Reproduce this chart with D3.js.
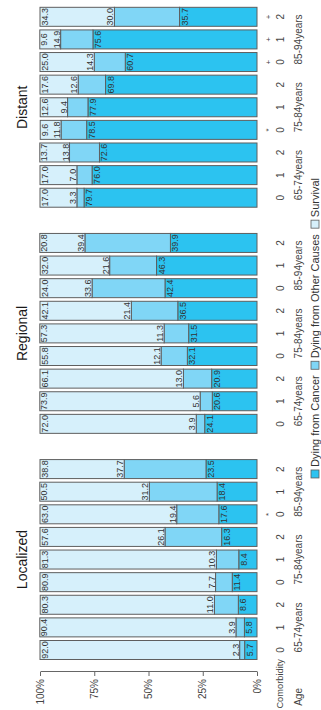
<!DOCTYPE html>
<html>
<head>
<meta charset="utf-8">
<script src="https://cdn.jsdelivr.net/npm/d3@7"></script>
<style>
  body { margin: 0; background: #fff; }
  text { font-family: "Liberation Sans", Arial, sans-serif; }
</style>
</head>
<body>
<div class="first"></div>
<script>
// values, one entry per bar (stage x age x comorbidity)
const stages = ["Localized", "Regional", "Distant"];
const ages = ["65-74years", "75-84years", "85-94years"];
const comorbidity = ["0", "1", "2"];
const marks = ["", "", "", "", "", "", "*", "", "",
               "", "", "", "", "", "", "", "", "",
               "", "", "", "*", "", "", "+", "+", "+"];

const survival = [92.0, 90.4, 80.3, 80.9, 81.3, 57.6, 63.0, 50.5, 38.8,
                  72.0, 73.9, 66.1, 55.8, 57.3, 42.1, 24.0, 32.0, 20.8,
                  17.0, 17.0, 13.7, 9.6, 12.6, 17.6, 25.0, 9.6, 34.3];
const otherCauses = [2.3, 3.9, 11.0, 7.7, 10.3, 26.1, 19.4, 31.2, 37.7,
                     3.9, 5.6, 13.0, 12.1, 11.3, 21.4, 33.6, 21.6, 39.4,
                     3.3, 7.0, 13.8, 11.8, 9.4, 12.6, 14.3, 14.9, 30.0];
const cancer = [5.7, 5.8, 8.6, 11.4, 8.4, 16.3, 17.6, 18.4, 23.5,
                24.1, 20.6, 20.9, 32.1, 31.5, 36.5, 42.4, 46.3, 39.9,
                79.7, 76.0, 72.6, 78.5, 77.9, 69.8, 60.7, 75.6, 35.7];

const pctTicks = [0, 25, 50, 75, 100];
const keys = ["cancer", "other", "survival"];
const legendLabels = ["Dying from Cancer", "Dying from Other Causes", "Survival"];

const rows = survival.map(function(s, i) {
    return {
        idx: i,
        stage: stages[Math.floor(i / 9)],
        age: ages[Math.floor((i % 9) / 3)],
        com: comorbidity[i % 3],
        mark: marks[i],
        slot: i % 9,
        survival: s,
        other: otherCauses[i],
        cancer: cancer[i]
    };
});

// chart is drawn landscape and then turned a quarter turn
const W = 710, H = 321;
const colors = {cancer: "#2cc3f0", other: "#80d6f6", survival: "#d6f0fb"};

const svg = d3.select('.first')
    .append('svg')
    .attr('width', H)
    .attr('height', W);

const g = svg.append('g')
    .attr('transform', 'translate(0,' + W + ') rotate(-90)');

const panel = d3.scaleBand()
    .domain(stages)
    .range([48.7, 704.5])
    .paddingInner(0.1);

const x = d3.scaleBand()
    .domain(d3.range(9))
    .range([0, panel.bandwidth()])
    .paddingInner(0.16)
    .paddingOuter(0.08);

const y = d3.scaleLinear()
    .domain([0, 100])
    .range([257, 40]);

const xc = d => panel(d.stage) + x(d.slot) + x.bandwidth() / 2;

const series = d3.stack().keys(keys)(rows);

g.selectAll('.layer')
    .data(series)
    .enter()
    .append('g')
    .attr('class', 'layer')
    .attr('fill', d => colors[d.key])
    .selectAll('rect')
    .data(d => d)
    .enter()
    .append('rect')
    .attr('x', d => panel(d.data.stage) + x(d.data.slot))
    .attr('width', x.bandwidth())
    .attr('y', d => y(d[1]))
    .attr('height', d => y(d[0]) - y(d[1]))
    .attr('stroke', '#5e5e5e')
    .attr('stroke-width', 1);

// value labels
const lab = g.append('g')
    .attr('font-size', 9)
    .attr('fill', '#333')
    .attr('text-anchor', 'middle');

lab.selectAll('.lsurv')
    .data(series[2])
    .enter()
    .append('text')
    .attr('x', d => xc(d.data))
    .attr('y', d => y(d[1]) + 7.5)
    .text(d => d.data.survival.toFixed(1));

lab.selectAll('.loth')
    .data(series[1])
    .enter()
    .append('text')
    .attr('x', d => xc(d.data))
    .attr('y', d => y(d[1]) - 1)
    .text(d => d.data.other.toFixed(1));

lab.selectAll('.lcan')
    .data(series[0])
    .enter()
    .append('text')
    .attr('x', d => xc(d.data))
    .attr('y', d => y(d[1]) + 8)
    .text(d => d.data.cancer.toFixed(1));

// panel titles
g.selectAll('.title')
    .data(stages)
    .enter()
    .append('text')
    .attr('class', 'title')
    .attr('x', d => panel(d) + panel.bandwidth() / 2)
    .attr('y', 27)
    .attr('text-anchor', 'middle')
    .attr('font-size', 14)
    .attr('fill', '#1a1a1a')
    .text(d => d);

// percent axis
const yAxis = g.append('g')
    .attr('transform', 'translate(38,0)')
    .call(d3.axisLeft(y).tickValues(pctTicks).tickFormat(d => d + '%').tickSize(4).tickSizeOuter(0));
yAxis.select('.domain').attr('stroke', '#666');
yAxis.selectAll('.tick line').attr('stroke', '#666');
yAxis.selectAll('.tick text')
    .attr('font-size', 10)
    .attr('font-family', '"Liberation Sans", Arial, sans-serif')
    .attr('fill', '#444')
    .attr('x', -7);

// category labels under the bars
const cat = g.append('g')
    .attr('font-size', 10)
    .attr('fill', '#444')
    .attr('text-anchor', 'middle');

cat.selectAll('.com')
    .data(rows)
    .enter()
    .append('text')
    .attr('x', d => xc(d))
    .attr('y', 284)
    .text(d => d.com);

cat.selectAll('.mark')
    .data(rows.filter(d => d.mark))
    .enter()
    .append('text')
    .attr('x', d => xc(d))
    .attr('y', 271)
    .attr('font-size', 8)
    .text(d => d.mark);

cat.selectAll('.age')
    .data(rows.filter(d => d.com === "1"))
    .enter()
    .append('text')
    .attr('x', d => xc(d))
    .attr('y', 302)
    .text(d => d.age);

g.append('text')
    .attr('x', 51)
    .attr('y', 283)
    .attr('text-anchor', 'end')
    .attr('font-size', 9.3)
    .attr('fill', '#444')
    .text('Comorbidity');

g.append('text')
    .attr('x', 22)
    .attr('y', 302)
    .attr('text-anchor', 'end')
    .attr('font-size', 10)
    .attr('fill', '#444')
    .text('Age');

// legend
const leg = g.append('g').attr('class', 'legend');
let lx = 0;
legendLabels.forEach(function(name, i) {
    leg.append('rect')
        .attr('x', lx)
        .attr('y', 311)
        .attr('width', 8)
        .attr('height', 8)
        .attr('fill', colors[keys[i]])
        .attr('stroke', '#5e5e5e')
        .attr('stroke-width', 0.8);
    const t = leg.append('text')
        .attr('x', lx + 11)
        .attr('y', 319)
        .attr('font-size', 11)
        .attr('fill', '#333')
        .text(name);
    lx += 11 + t.node().getComputedTextLength() + 6;
});
const legW = lx - 6;
leg.attr('transform', 'translate(' + (382 - legW / 2) + ',0)');
</script>
</body>
</html>
